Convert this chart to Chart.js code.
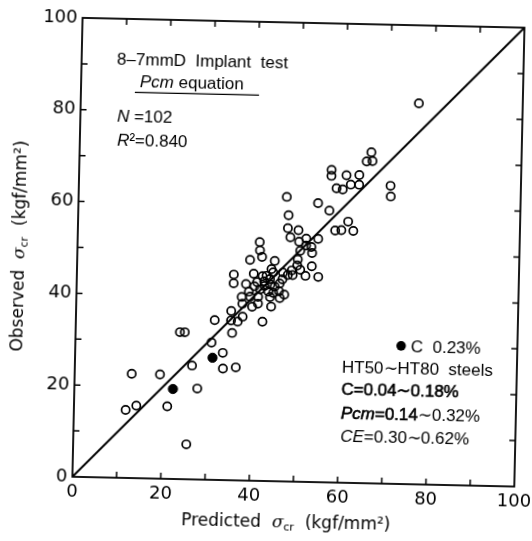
<!DOCTYPE html>
<html><head><meta charset="utf-8">
<script src="https://cdn.jsdelivr.net/npm/chart.js@4"></script>
<style>
html,body{margin:0;padding:0;background:#fff;overflow:hidden;width:532px;height:541px;}
#wrap{position:absolute;left:-24px;top:-19px;width:580px;height:580px;transform:rotate(1.27deg);transform-origin:50% 50%;}
canvas{display:block;}
</style></head><body>
<div id="wrap"><canvas id="c" width="580" height="580"></canvas></div>
<script>
// Open circles: predicted (x) vs observed (y), kgf/mm2
const predicted = [76.5,66.0,65.0,66.3,57.1,57.1,60.5,63.4,61.5,63.4,
  58.3,59.7,70.5,70.6,54.2,56.8,47.1,47.6,47.5,48.1,
  49.9,58.2,59.6,61.1,62.3,54.4,51.7,41.2,41.3,41.8,
  39.1,44.7,50.1,50.4,51.7,52.9,53.1,49.9,49.8,48.6,
  50.5,53.1,51.7,54.6,47.7,48.8,46.6,44.4,35.5,35.5,
  40.0,42.9,43.7,38.3,40.2,42.4,45.9,44.8,41.5,43.4,
  45.8,46.0,37.4,39.3,41.1,43.8,37.6,39.8,41.1,44.1,
  35.1,35.1,37.7,36.6,42.2,31.4,35.4,23.6,24.7,30.8,
  33.4,33.5,36.4,26.5,19.3,12.9,27.8,14.1,11.7,21.1,
  25.6,42.5,43.8,44.5,40.8,42.0,46.5,39.0,47.0,44.0];
const observed = [83.0,72.1,70.1,70.2,68.1,66.8,67.0,67.1,65.0,65.0,
  64.1,63.9,64.9,62.6,60.8,59.2,62.0,58.0,55.2,53.2,
  54.8,54.9,55.0,56.9,54.9,53.0,53.0,52.0,50.2,48.8,
  48.1,48.0,52.3,50.3,51.5,51.2,49.9,48.4,47.1,46.0,
  46.2,47.0,44.9,44.7,45.0,45.0,45.5,45.5,44.8,42.9,
  45.1,44.7,44.0,42.8,42.4,43.5,43.1,42.4,41.7,41.3,
  41.4,39.9,40.0,40.1,40.1,40.1,38.5,37.9,38.6,38.0,
  36.9,34.8,35.7,34.6,34.7,34.8,32.1,32.0,32.0,29.9,
  27.7,24.3,24.6,24.8,22.7,22.7,19.8,15.8,14.8,15.8,
  7.6,42.5,42.8,41.0,43.3,44.6,44.0,41.2,40.7,46.2];
// Filled circles: C 0.23%
const predictedC023 = [31.1, 22.3];
const observedC023 = [26.6, 19.6];
// 1:1 line
const identityLine = [0, 100];
const tickLabels = [0, 20, 40, 60, 80, 100];
const minorTicks = [10, 20, 30, 40, 50, 60, 70, 80, 90];

const toPts = (xs, ys) => xs.map((x, i) => ({x: x, y: ys[i]}));

const SANS = '"Liberation Sans", Arial, sans-serif';
const DJ = '"DejaVu Sans", sans-serif';

function drawRuns(ctx, x, y, runs, align) {
  ctx.textBaseline = 'middle';
  ctx.textAlign = 'left';
  let w = 0;
  runs.forEach(r => { ctx.font = r.f; w += ctx.measureText(r.t).width; });
  let cx = align === 'center' ? x - w / 2 : x;
  runs.forEach(r => {
    ctx.font = r.f;
    ctx.fillText(r.t, cx, y + (r.dy || 0));
    if (r.heavy) { ctx.lineWidth = 0.6; ctx.strokeText(r.t, cx, y + (r.dy || 0)); }
    cx += ctx.measureText(r.t).width;
  });
}

const decor = {
  id: 'decor',
  afterDraw(chart) {
    const ctx = chart.ctx;
    const a = chart.chartArea;
    const xs = chart.scales.x, ys = chart.scales.y;
    ctx.save();
    ctx.strokeStyle = '#000';
    ctx.fillStyle = '#000';
    // frame
    ctx.lineWidth = 1.8;
    ctx.strokeRect(a.left, a.top, a.right - a.left, a.bottom - a.top);
    // inward ticks
    ctx.lineWidth = 1.5;
    const L = 6;
    ctx.beginPath();
    minorTicks.forEach(v => {
      const px = xs.getPixelForValue(v), py = ys.getPixelForValue(v);
      ctx.moveTo(px, a.bottom); ctx.lineTo(px, a.bottom - L);
      ctx.moveTo(px, a.top); ctx.lineTo(px, a.top + L);
      ctx.moveTo(a.left, py); ctx.lineTo(a.left + L, py);
      ctx.moveTo(a.right, py); ctx.lineTo(a.right - L, py);
    });
    ctx.stroke();

    const P = (x, y) => [xs.getPixelForValue(x), ys.getPixelForValue(y)];
    const f17 = '17px ' + SANS;
    const i17 = 'italic 17px ' + SANS;
    let p;
    p = P(8.0, 91.1); drawRuns(ctx, p[0], p[1], [{t: '8–7mmD  Implant  test', f: f17}]);
    p = P(13.3, 86.2); drawRuns(ctx, p[0], p[1], [{t: 'Pcm', f: i17}, {t: ' equation', f: f17}]);
    // underline
    ctx.lineWidth = 1.2;
    ctx.beginPath();
    let u1 = P(12.2, 84.0), u2 = P(40.3, 84.0);
    ctx.moveTo(u1[0], u1[1]); ctx.lineTo(u2[0], u2[1]); ctx.stroke();
    p = P(8.3, 78.6); drawRuns(ctx, p[0], p[1], [{t: 'N', f: i17}, {t: ' =102', f: f17}]);
    p = P(8.4, 73.4); drawRuns(ctx, p[0], p[1], [{t: 'R', f: i17}, {t: '²=0.840', f: f17}]);

    // legend marker
    p = P(73.7, 30.1);
    ctx.beginPath(); ctx.arc(p[0], p[1], 4.8, 0, Math.PI * 2); ctx.fill();
    p = P(75.9, 29.7); drawRuns(ctx, p[0], p[1], [{t: 'C  0.23%', f: f17}]);
    p = P(60.4, 25.0); drawRuns(ctx, p[0], p[1], [{t: 'HT50∼HT80  steels', f: f17}]);
    p = P(60.4, 20.2); drawRuns(ctx, p[0], p[1], [{t: 'C=0.04∼0.18%', f: f17, heavy: true}]);
    p = P(60.4, 15.0); drawRuns(ctx, p[0], p[1], [{t: 'Pcm', f: i17, heavy: true}, {t: '=0.14', f: f17, heavy: true}, {t: '∼0.32%', f: f17}]);
    p = P(60.4, 10.0); drawRuns(ctx, p[0], p[1], [{t: 'CE', f: i17}, {t: '=0.30∼0.62%', f: f17}]);

    // axis titles
    const t17 = '17px ' + DJ;
    const sig = 'italic 17px "DejaVu Serif", serif';
    const sub = '11px ' + DJ;
    drawRuns(ctx, xs.getPixelForValue(48.5), a.bottom + 42, [
      {t: 'Predicted  ', f: t17}, {t: 'σ', f: sig}, {t: 'cr', f: sub, dy: 4}, {t: '  (kgf/mm²)', f: t17}
    ], 'center');
    ctx.translate(a.left - 57, ys.getPixelForValue(50));
    ctx.rotate(-Math.PI / 2);
    drawRuns(ctx, 0, 0, [
      {t: 'Observed  ', f: t17}, {t: 'σ', f: sig}, {t: 'cr', f: sub, dy: 4}, {t: '  (kgf/mm²)', f: t17}
    ], 'center');
    ctx.restore();
  }
};

const axisCommon = (fitFn) => ({
  type: 'linear', min: 0, max: 100,
  ticks: {
    stepSize: 10, autoSkip: false, maxRotation: 0, minRotation: 0, padding: 5,
    color: '#000', font: {family: 'DejaVu Sans', size: 18},
    callback: (v) => tickLabels.includes(v) ? String(v) : ''
  },
  grid: {display: false, drawTicks: false, tickLength: 0},
  border: {display: false},
  afterFit: fitFn
});

new Chart(document.getElementById('c'), {
  type: 'scatter',
  data: {
    datasets: [
      {
        label: 'identity', type: 'line',
        data: identityLine.map(v => ({x: v, y: v})),
        borderColor: '#000', borderWidth: 2, pointRadius: 0, fill: false, tension: 0
      },
      {
        label: 'HT50~HT80', data: toPts(predicted, observed),
        pointRadius: 4.1, pointBorderWidth: 1.7, borderColor: '#000',
        backgroundColor: 'rgba(0,0,0,0)', pointStyle: 'circle'
      },
      {
        label: 'C 0.23%', data: toPts(predictedC023, observedC023),
        pointRadius: 4.6, pointBorderWidth: 1, borderColor: '#000',
        backgroundColor: '#000', pointStyle: 'circle'
      }
    ]
  },
  options: {
    responsive: false, animation: false, devicePixelRatio: 1,
    layout: {padding: {left: 41, top: 41, right: 37, bottom: 30}},
    plugins: {legend: {display: false}, tooltip: {enabled: false}},
    scales: {
      x: axisCommon(s => { s.height = 50; }),
      y: axisCommon(s => { s.width = 60; })
    }
  },
  plugins: [decor]
});
</script>
</body></html>
